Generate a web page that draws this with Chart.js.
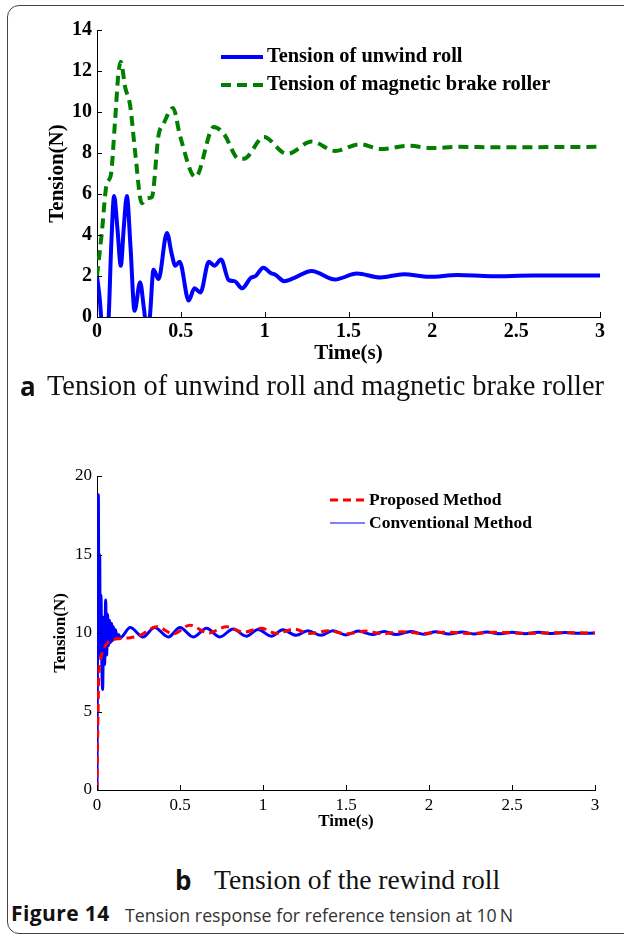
<!DOCTYPE html>
<html>
<head>
<meta charset="utf-8">
<script src="https://cdn.jsdelivr.net/npm/chart.js@4.4.1/dist/chart.umd.min.js"></script>
<style>
  body { margin: 0; background: #fff; }
  #page { position: relative; width: 624px; height: 937px; overflow: hidden; background: #fff; }
  .frame { position: absolute; left: 7px; top: 5px; width: 700px; height: 927px; border: 1px solid #444; border-radius: 12px; }
  canvas { position: absolute; left: 0; }
  .cap { position: absolute; font-family: "Liberation Serif", serif; font-size: 28.4px; line-height: 32px; color: #111; white-space: nowrap; }
  .lab { position: absolute; font-family: "Open Sans", sans-serif; font-weight: 700; font-size: 26px; line-height: 32px; color: #111; }
  .fig { position: absolute; top: 903px; font-family: "Open Sans", sans-serif; font-size: 17.8px; line-height: 24px; color: #333; white-space: nowrap; }
</style>
</head>
<body>
<div id="page">
  <div class="frame"></div>
  <canvas id="chartA" width="624" height="370" style="top:0"></canvas>
  <canvas id="chartB" width="624" height="400" style="top:440px"></canvas>
  <div class="lab" style="left:20px; top:370px">a</div>
  <div class="cap" style="left:47px; top:370px">Tension of unwind roll and magnetic brake roller</div>
  <div class="lab" style="left:175px; top:864px">b</div>
  <div class="cap" style="left:214px; top:864px; font-size:27.6px">Tension of the rewind roll</div>
  <div class="fig" style="left:11px; top:901px; font-weight:700; font-size:21px; letter-spacing:0.4px; color:#111">Figure 14</div>
  <div class="fig" style="left:125px">Tension response for reference tension at 10&#8201;N</div>
</div>
<script>
// ---------------- Data (a) ----------------
const unwindTime = [0, 0.015, 0.028, 0.045, 0.068, 0.085, 0.102, 0.122, 0.142, 0.16, 0.178, 0.2, 0.224, 0.257, 0.28, 0.297, 0.315, 0.337, 0.367, 0.417, 0.445, 0.467, 0.493, 0.547, 0.581, 0.617, 0.667, 0.7, 0.74, 0.786, 0.82, 0.866, 0.916, 0.946, 0.992, 1.036, 1.066, 1.116, 1.17, 1.28, 1.42, 1.55, 1.69, 1.83, 1.98, 2.15, 2.35, 2.6, 3.0];
const unwindTension = [2.0, 1.0, -0.3, -1.5, -0.3, 3.5, 5.9, 4.3, 2.5, 4.4, 5.9, 3.4, 0.3, 1.7, 0.4, -0.6, 0.0, 2.3, 1.85, 4.1, 3.1, 2.5, 2.7, 0.8, 1.4, 1.2, 2.7, 2.5, 2.8, 1.8, 1.75, 1.4, 1.9, 2.0, 2.4, 2.15, 2.05, 1.75, 1.88, 2.25, 1.83, 2.12, 1.93, 2.09, 1.96, 2.05, 1.99, 2.02, 2.02];

const brakeTime = [0, 0.028, 0.058, 0.082, 0.108, 0.128, 0.142, 0.168, 0.198, 0.228, 0.267, 0.3, 0.327, 0.367, 0.397, 0.453, 0.497, 0.587, 0.697, 0.756, 0.846, 0.876, 0.996, 1.106, 1.136, 1.28, 1.42, 1.57, 1.69, 1.86, 2.0, 2.15, 2.4, 3.0];
const brakeTension = [2.0, 4.05, 6.5, 6.9, 9.6, 11.9, 12.45, 11.2, 10.3, 8.0, 5.55, 5.8, 5.85, 8.86, 9.43, 10.2, 8.78, 6.82, 9.27, 8.94, 7.72, 7.72, 8.78, 8.04, 7.96, 8.56, 8.1, 8.43, 8.19, 8.35, 8.24, 8.3, 8.28, 8.3];

const ticksA_x = [0, 0.5, 1, 1.5, 2, 2.5, 3];
const ticksA_y = [0, 2, 4, 6, 8, 10, 12, 14];

// ---------------- Data (b) ----------------
const proposedTime = [0, 0.005, 0.01, 0.02, 0.04, 0.08, 0.14, 0.2, 0.26, 0.36, 0.46, 0.56, 0.67, 0.78, 0.88, 0.99, 1.08, 1.19, 1.28, 1.4, 1.5, 1.62, 1.72, 1.84, 1.95, 2.1, 2.25, 2.4, 2.6, 2.8, 3.0];
const proposedTension = [0, 4.0, 7.0, 8.2, 9.0, 9.5, 9.65, 9.7, 9.85, 10.4, 9.95, 10.5, 10.0, 10.4, 10.05, 10.3, 9.97, 10.25, 9.97, 10.15, 9.95, 10.12, 9.95, 10.08, 9.97, 10.05, 9.97, 10.04, 9.98, 10.02, 10.0];

const conventionalTime = [0, 0.004, 0.008, 0.012, 0.016, 0.02, 0.024, 0.028, 0.034, 0.04, 0.046, 0.052, 0.058, 0.064, 0.07, 0.076, 0.082, 0.088, 0.094, 0.1, 0.106, 0.112, 0.12, 0.13, 0.14, 0.2, 0.277, 0.347, 0.43, 0.5, 0.58, 0.66, 0.74, 0.82, 0.9, 0.97, 1.05, 1.12, 1.2, 1.27, 1.35, 1.42, 1.5, 1.575, 1.66, 1.73, 1.8, 1.89, 1.97, 2.04, 2.12, 2.2, 2.27, 2.35, 2.43, 2.5, 2.58, 2.66, 2.74, 2.82, 2.9, 3.0];
const conventionalTension = [0, 12.0, 18.8, 9.0, 15.0, 8.5, 12.4, 8.8, 6.4, 11.0, 8.0, 12.1, 8.6, 11.2, 9.2, 10.8, 9.4, 10.6, 9.5, 10.4, 9.6, 10.2, 9.7, 9.9, 9.7, 10.35, 9.75, 10.35, 9.75, 10.35, 9.75, 10.3, 9.75, 10.25, 9.8, 10.22, 9.8, 10.2, 9.85, 10.15, 9.85, 10.15, 9.88, 10.12, 9.9, 10.1, 9.9, 10.1, 9.92, 10.08, 9.93, 10.07, 9.94, 10.06, 9.95, 10.05, 9.96, 10.04, 9.97, 10.03, 9.98, 10.0];

const ticksB_x = [0, 0.5, 1, 1.5, 2, 2.5, 3];
const ticksB_y = [0, 5, 10, 15, 20];

const pts = (xs, ys) => xs.map((x, i) => ({ x: x, y: ys[i] }));


// ---------------- Plugins ----------------
// matlab style ticks pointing inside the axes
const innerTicks = {
  id: 'innerTicks',
  afterDraw(chart) {
    const ctx = chart.ctx;
    const { left, bottom } = chart.chartArea;
    const len = 5;
    ctx.save();
    ctx.strokeStyle = '#000';
    ctx.lineWidth = 1;
    ctx.beginPath();
    chart.scales.x.ticks.forEach(t => {
      const px = Math.round(chart.scales.x.getPixelForValue(t.value)) + 0.5;
      ctx.moveTo(px, bottom);
      ctx.lineTo(px, bottom - len);
    });
    chart.scales.y.ticks.forEach(t => {
      const py = Math.round(chart.scales.y.getPixelForValue(t.value)) + 0.5;
      ctx.moveTo(left, py);
      ctx.lineTo(left + len, py);
    });
    ctx.stroke();
    ctx.restore();
  }
};

const sampleLegend = {
  id: 'sampleLegend',
  afterDraw(chart, args, opts) {
    const ctx = chart.ctx;
    ctx.save();
    ctx.font = opts.font;
    ctx.fillStyle = '#000';
    ctx.textBaseline = 'middle';
    opts.items.forEach((it, i) => {
      const ds = chart.data.datasets[i];
      const y = opts.y + i * opts.gap;
      ctx.beginPath();
      ctx.strokeStyle = ds.borderColor;
      ctx.lineWidth = it.width;
      ctx.setLineDash(ds.borderDash || []);
      ctx.moveTo(opts.x, y);
      ctx.lineTo(opts.x + opts.len, y);
      ctx.stroke();
      ctx.setLineDash([]);
      ctx.fillText(ds.label, opts.x + opts.len + 4, y);
    });
    ctx.restore();
  }
};


// ---------------- Chart builder ----------------
function axisOptions(ticksX, ticksY, cfg) {
  return {
    x: {
      type: 'linear', min: ticksX[0], max: ticksX[ticksX.length - 1],
      afterBuildTicks: s => { s.ticks = ticksX.map(v => ({ value: v })); },
      afterFit: s => { s.height = cfg.xHeight; },
      grid: { display: false, drawTicks: false },
      border: { display: true, color: '#000', width: 1 },
      ticks: { color: '#000', font: cfg.tickFont, padding: cfg.xPad, maxRotation: 0, callback: v => String(v) },
      title: { display: true, text: 'Time(s)', color: '#000', font: cfg.titleFont, padding: { top: 0, bottom: cfg.xTitlePad } }
    },
    y: {
      type: 'linear', min: ticksY[0], max: ticksY[ticksY.length - 1],
      afterBuildTicks: s => { s.ticks = ticksY.map(v => ({ value: v })); },
      afterFit: s => { s.width = 97; },
      grid: { display: false, drawTicks: false },
      border: { display: true, color: '#000', width: 1 },
      ticks: { color: '#000', font: cfg.tickFont, padding: 5, callback: v => String(v) },
      title: { display: true, text: 'Tension(N)', color: '#000', font: cfg.titleFont, padding: { top: cfg.yTitlePad, bottom: 0 } }
    }
  };
}

const chartA = new Chart(document.getElementById('chartA'), {
  type: 'line',
  data: {
    datasets: [
      { label: 'Tension of unwind roll', data: pts(unwindTime, unwindTension), borderColor: '#0000ff', borderWidth: 4, pointRadius: 0, cubicInterpolationMode: 'monotone' },
      { label: 'Tension of magnetic brake roller', data: pts(brakeTime, brakeTension), borderColor: '#008000', borderWidth: 4, borderDash: [10, 6], pointRadius: 0, cubicInterpolationMode: 'monotone' }
    ]
  },
  options: {
    responsive: false, animation: false, devicePixelRatio: 1,
    layout: { padding: { top: 30, right: 24, left: 0, bottom: 0 } },
    plugins: {
      legend: { display: false }, tooltip: { enabled: false },
      sampleLegend: { x: 221, y: 57, gap: 28, len: 42, font: 'bold 20.4px "Liberation Serif"', items: [{ width: 4 }, { width: 4 }] }
    },
    scales: axisOptions(ticksA_x, ticksA_y, {
      xHeight: 53, xPad: 3, xTitlePad: 4, yTitlePad: 45,
      tickFont: { family: 'Liberation Serif', size: 20, weight: 'bold' },
      titleFont: { family: 'Liberation Serif', size: 21, weight: 'bold' }
    })
  },
  plugins: [innerTicks, sampleLegend]
});

const chartB = new Chart(document.getElementById('chartB'), {
  type: 'line',
  data: {
    datasets: [
      { label: 'Proposed Method', data: pts(proposedTime, proposedTension), borderColor: '#ff0000', borderWidth: 3, borderDash: [8, 5], pointRadius: 0, cubicInterpolationMode: 'monotone' },
      { label: 'Conventional Method', data: pts(conventionalTime, conventionalTension), borderColor: '#0000ff', borderWidth: 3, pointRadius: 0, cubicInterpolationMode: 'monotone' }
    ]
  },
  options: {
    responsive: false, animation: false, devicePixelRatio: 1,
    layout: { padding: { top: 36, right: 29, left: 0, bottom: 0 } },
    plugins: {
      legend: { display: false }, tooltip: { enabled: false },
      sampleLegend: { x: 330, y: 60, gap: 23, len: 35, font: 'bold 17.5px "Liberation Serif"', items: [{ width: 3 }, { width: 1 }] }
    },
    scales: axisOptions(ticksB_x, ticksB_y, {
      xHeight: 50, xPad: 5, xTitlePad: 8, yTitlePad: 50,
      tickFont: { family: 'Liberation Serif', size: 17 },
      titleFont: { family: 'Liberation Serif', size: 17, weight: 'bold' }
    })
  },
  plugins: [innerTicks, sampleLegend]
});
</script>
</body>
</html>
